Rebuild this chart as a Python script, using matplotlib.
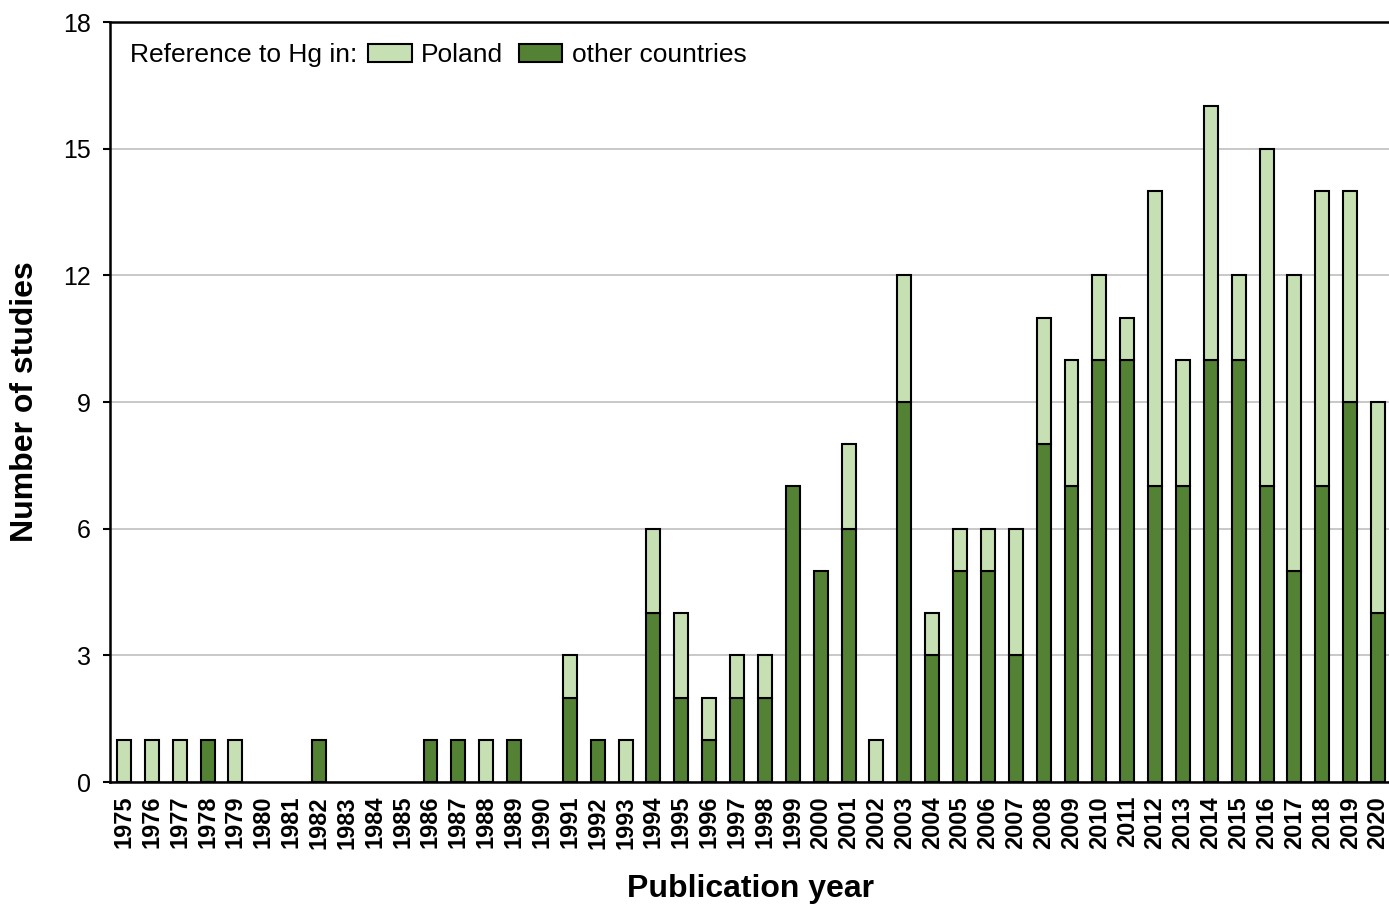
import numpy as np
import matplotlib.pyplot as plt
from matplotlib.patches import Patch

plt.rcParams["font.family"] = ["Liberation Sans", "DejaVu Sans"]

years = list(range(1975, 2021))
other = [0, 0, 0, 1, 0, 0, 0, 1, 0, 0, 0, 1, 1, 0, 1, 0,
         2, 1, 0, 4, 2, 1, 2, 2, 7, 5, 6, 0, 9, 3, 5, 5, 3,
         8, 7, 10, 10, 7, 7, 10, 10, 7, 5, 7, 9, 4]
poland = [1, 1, 1, 0, 1, 0, 0, 0, 0, 0, 0, 0, 0, 1, 0, 0,
          1, 0, 1, 2, 2, 1, 1, 1, 0, 0, 2, 1, 3, 1, 1, 1, 3,
          3, 3, 2, 1, 7, 3, 6, 2, 8, 7, 7, 5, 5]

light = "#C6E0B4"
dark = "#548235"

W, H = 1389, 908
fig = plt.figure(figsize=(W / 100, H / 100), dpi=100)
ax = fig.add_axes([110 / W, 1 - 782 / H, (1392 - 110) / W, (782 - 22) / H])

x = np.arange(len(years))
o = np.array(other)
p = np.array(poland)
m1 = o > 0
m2 = p > 0
ax.bar(x[m1], o[m1], width=0.5, color=dark, edgecolor="black", linewidth=1.5, zorder=3)
ax.bar(x[m2], p[m2], width=0.5, bottom=o[m2], color=light, edgecolor="black",
       linewidth=1.5, zorder=3)

ax.set_xlim(-0.5, len(years) - 0.5)
ax.set_ylim(0, 18)
ax.set_yticks(range(0, 19, 3))
ax.yaxis.grid(True, color="#BFBFBF", linewidth=1.2, zorder=0)
ax.set_xticks(x)
ax.set_xticklabels([str(y) for y in years], rotation=90, fontsize=17, fontweight="bold")
ax.tick_params(axis="x", length=0, pad=10)
ax.tick_params(axis="y", length=5, width=1.5, labelsize=18, pad=9)

ax.spines["right"].set_visible(False)
for s in ["top", "left", "bottom"]:
    ax.spines[s].set_linewidth(1.8)

ax.set_ylabel("Number of studies", fontsize=23, fontweight="bold", labelpad=16)
ax.set_xlabel("Publication year", fontsize=23, fontweight="bold", labelpad=18)

fig.text(130 / W, 1 - 55 / H, "Reference to Hg in:", fontsize=19, va="center")
handles = [Patch(facecolor=light, edgecolor="black", linewidth=1.5, label="Poland"),
           Patch(facecolor=dark, edgecolor="black", linewidth=1.5, label="other countries")]
fig.legend(handles=handles, loc="center left", bbox_to_anchor=(368 / W, 1 - 55 / H),
           ncol=2, frameon=False, fontsize=19, borderpad=0, borderaxespad=0,
           handlelength=1.65, handleheight=0.65, handletextpad=0.35, columnspacing=0.6)

fig.savefig("out.png", dpi=100)
